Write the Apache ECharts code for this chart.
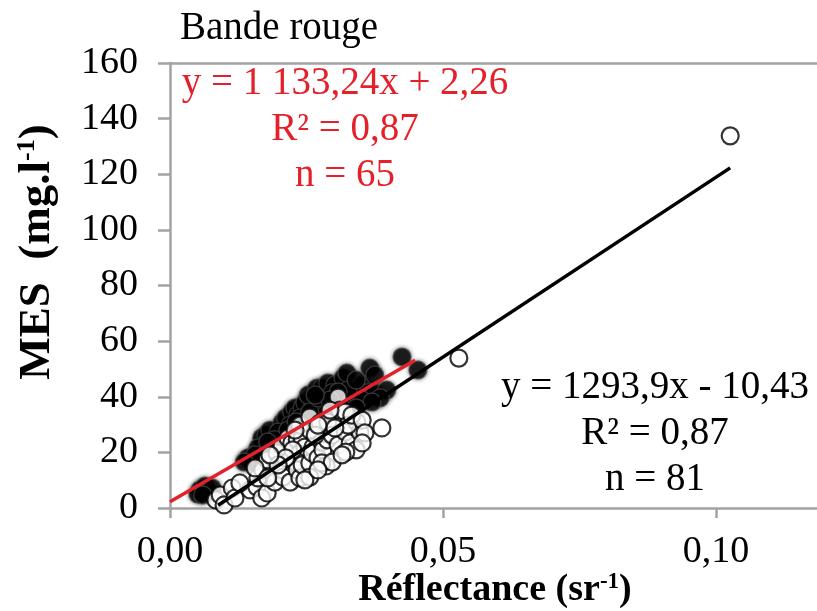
<!DOCTYPE html>
<html>
<head>
<meta charset="utf-8">
<title>Bande rouge</title>
<script src="https://cdn.jsdelivr.net/npm/echarts@6/dist/echarts.min.js"></script>
<style>
  html, body { margin: 0; padding: 0; background: #fff; }
  #chart { width: 817px; height: 611px; }
</style>
</head>
<body>
<div id="chart"></div>
<script>
// reflectance (sr-1), MES (mg/l) - filled points, red fit (n = 65)
var filledPts = [
  [0.0055, 6.5], [0.0064, 7.9], [0.0070, 5.8], [0.0051, 5.0], [0.0077, 7.2],
  [0.0143, 18.0], [0.0150, 16.5], [0.0168, 25.2], [0.0176, 26.2], [0.0183, 28.0],
  [0.0172, 22.7], [0.0205, 30.6], [0.0212, 32.4], [0.0223, 34.5], [0.0229, 36.0],
  [0.0234, 33.4], [0.0242, 36.0], [0.0247, 37.8], [0.0260, 38.8], [0.0253, 40.6],
  [0.0269, 43.1], [0.0278, 43.1], [0.0275, 38.1], [0.0289, 44.9], [0.0289, 38.1],
  [0.0302, 44.2], [0.0317, 46.7], [0.0324, 48.5], [0.0333, 40.6], [0.0335, 39.6],
  [0.0352, 44.2], [0.0344, 40.6], [0.0366, 50.3], [0.0375, 47.8], [0.0363, 41.4],
  [0.0375, 41.4], [0.0397, 42.4], [0.0385, 39.6], [0.0425, 54.3], [0.0454, 49.6],
  [0.0352, 38.8], [0.0370, 38.1], [0.0311, 37.0], [0.0297, 41.4], [0.0266, 35.2],
  [0.0284, 33.4], [0.0220, 29.8], [0.0198, 27.3], [0.0192, 24.5], [0.0161, 21.6],
  [0.0156, 19.1], [0.0136, 16.5], [0.0238, 32.4], [0.0256, 34.5], [0.0326, 42.4],
  [0.0341, 46.0], [0.0308, 41.7], [0.0271, 39.6], [0.0216, 28.0], [0.0179, 23.7],
  [0.0060, 4.7], [0.0341, 36.0], [0.0293, 38.8], [0.0231, 30.9], [0.0266, 40.6]
];

// open points, black fit (n = 81)
var openPts = [
  [0.0084, 2.9], [0.0092, 4.7], [0.0099, 1.1], [0.0114, 7.2], [0.0119, 3.6],
  [0.0147, 6.5], [0.0159, 7.6], [0.0161, 10.8], [0.0168, 3.6], [0.0178, 5.4],
  [0.0170, 13.7], [0.0189, 12.6], [0.0192, 9.3], [0.0189, 18.0], [0.0207, 13.7],
  [0.0207, 11.1], [0.0178, 17.3], [0.0196, 19.8], [0.0205, 22.3], [0.0216, 25.2],
  [0.0220, 9.3], [0.0220, 17.3], [0.0223, 23.4], [0.0233, 24.5], [0.0229, 16.5],
  [0.0233, 13.7], [0.0238, 10.8], [0.0238, 19.8], [0.0242, 25.2], [0.0247, 21.9],
  [0.0242, 15.5], [0.0238, 29.8], [0.0256, 32.7], [0.0256, 28.0], [0.0262, 21.9],
  [0.0256, 16.2], [0.0260, 19.8], [0.0256, 11.1], [0.0271, 18.0], [0.0275, 30.6],
  [0.0278, 23.7], [0.0280, 20.9], [0.0286, 15.1], [0.0288, 24.5], [0.0289, 30.9],
  [0.0278, 16.2], [0.0297, 26.2], [0.0297, 16.5], [0.0308, 39.9], [0.0311, 35.2],
  [0.0308, 22.7], [0.0321, 34.5], [0.0321, 27.3], [0.0330, 23.4], [0.0341, 20.9],
  [0.0342, 30.9], [0.0322, 20.1], [0.0348, 27.3], [0.0326, 29.8], [0.0302, 28.8],
  [0.0266, 26.2], [0.0225, 20.9], [0.0229, 28.0], [0.0212, 18.0], [0.0198, 15.5],
  [0.0183, 19.1], [0.0156, 14.4], [0.0247, 10.1], [0.0271, 13.7], [0.0315, 19.1],
  [0.0333, 33.4], [0.0352, 31.6], [0.0357, 27.0], [0.0352, 23.4], [0.0293, 35.2],
  [0.0179, 10.8], [0.0271, 29.8], [0.0388, 28.8], [0.0529, 53.9], [0.1026, 133.8],
  [0.0128, 9.0]
];

// regression lines as drawn (end points)
var redFit = [[0, 2.26], [0.0449, 53.1]];
var blackFit = [[0.0088, 1.0], [0.1026, 122.3]];

var xTicks = [0, 0.05, 0.1];

var serif = '"Liberation Serif", "Times New Roman", serif';
var axisGray = '#a3a3a3';
var red = '#e4202a';

var chart = echarts.init(document.getElementById('chart'), null, { renderer: 'canvas' });

chart.setOption({
  backgroundColor: '#fff',
  animation: false,
  grid: { left: 170, right: 0, top: 63, bottom: 103 },
  xAxis: [{
    type: 'value',
    min: 0,
    max: 0.1185,
    interval: 0.05,
    splitLine: { show: false },
    axisLine: { lineStyle: { color: axisGray, width: 2.5 } },
    axisTick: { customValues: xTicks, length: 10, lineStyle: { color: axisGray, width: 2.5 } },
    axisLabel: {
      customValues: xTicks,
      margin: 25,
      fontFamily: serif,
      fontSize: 38,
      color: '#000',
      formatter: function (v) { return v.toFixed(2).replace('.', ','); }
    }
  }, {
    type: 'value',
    position: 'top',
    min: 0,
    max: 0.1185,
    splitLine: { show: false },
    axisLine: { lineStyle: { color: axisGray, width: 2.5 } },
    axisTick: { show: false },
    axisLabel: { show: false }
  }],
  yAxis: {
    type: 'value',
    min: 0,
    max: 160,
    interval: 20,
    splitLine: { show: false },
    axisLine: { show: true, lineStyle: { color: axisGray, width: 2.5 } },
    axisTick: { show: true, length: 12, lineStyle: { color: axisGray, width: 2.5 } },
    axisLabel: { margin: 32, fontFamily: serif, fontSize: 38, color: '#000' }
  },
  series: [{
    type: 'scatter',
    data: filledPts,
    symbolSize: 18,
    itemStyle: {
      color: '#000',
      borderColor: 'rgba(80,80,80,0.8)',
      borderWidth: 1.5,
      shadowBlur: 4,
      shadowColor: 'rgba(0,0,0,0.6)'
    },
    z: 2
  }, {
    type: 'scatter',
    data: openPts,
    symbolSize: 17,
    itemStyle: { color: '#fff', borderColor: '#000', borderWidth: 2.2 },
    z: 3
  }, {
    type: 'line',
    data: redFit,
    showSymbol: false,
    lineStyle: { color: red, width: 3.5 },
    z: 5
  }, {
    type: 'line',
    data: blackFit,
    showSymbol: false,
    lineStyle: { color: '#000', width: 3.5 },
    z: 4
  }],
  graphic: [{
    type: 'text',
    left: 180, top: 9,
    style: { text: 'Bande rouge', font: '39px ' + serif, fill: '#000' }
  }, {
    type: 'text',
    x: 345, y: 61,
    style: {
      text: 'y = 1 133,24x + 2,26\nR² = 0,87\nn = 65',
      font: '39px ' + serif, fill: red,
      align: 'center', verticalAlign: 'top', lineHeight: 46
    }
  }, {
    type: 'text',
    x: 655, y: 365,
    style: {
      text: 'y = 1293,9x - 10,43\nR² = 0,87\nn = 81',
      font: '39px ' + serif, fill: '#000',
      align: 'center', verticalAlign: 'top', lineHeight: 46
    }
  }, {
    type: 'text',
    x: 37, y: 252,
    rotation: Math.PI / 2,
    style: {
      text: '{a|MES  (mg.l}{s|-1}{a|)}',
      align: 'center', verticalAlign: 'middle',
      rich: {
        a: { font: 'bold 45px ' + serif, fill: '#000' },
        s: { font: 'bold 26px ' + serif, fill: '#000', verticalAlign: 'top' }
      }
    }
  }, {
    type: 'text',
    x: 495, y: 590,
    style: {
      text: '{a|Réflectance (sr}{s|-1}{a|)}',
      align: 'center', verticalAlign: 'middle',
      rich: {
        a: { font: 'bold 38px ' + serif, fill: '#000' },
        s: { font: 'bold 23px ' + serif, fill: '#000', verticalAlign: 'top' }
      }
    }
  }]
});
</script>
</body>
</html>
